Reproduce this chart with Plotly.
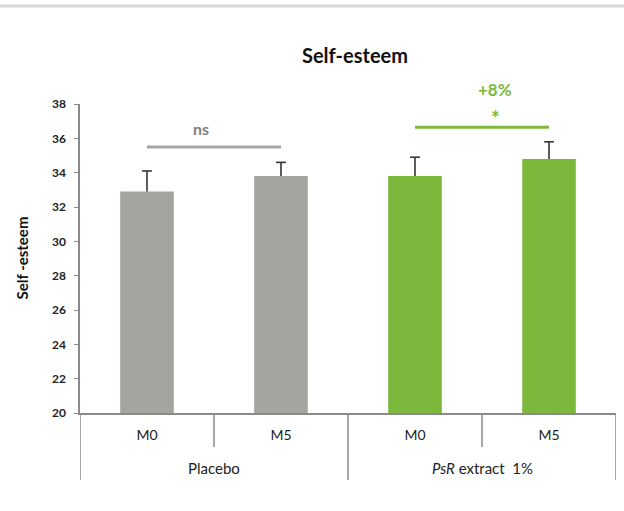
import plotly.graph_objects as go

# Study data: self-esteem score at month 0 and month 5 for each arm
groups = ["Placebo", "Placebo", "PsR extract 1%", "PsR extract 1%"]
timepoints = ["M0", "M5", "M0", "M5"]
means = [32.9, 33.8, 33.8, 34.8]
sem = [1.2, 0.8, 1.1, 1.0]
bar_colors = ["#a5a4a0", "#a5a4a0", "#7cb83c", "#7cb83c"]

group_names = ["Placebo", "<i>PsR</i> extract  1%"]
y_ticks = list(range(20, 39, 2))

AXIS = "#8a8a8a"
GREEN = "#7cb83c"
GRAY_LINE = "#a6a6a6"
WHISKER = "#333333"
FONT = "Lato"

xpos = list(range(len(timepoints)))
upper = [m + s for m, s in zip(means, sem)]

fig = go.Figure()
# bars with an upward whisker (no foot cap on the bar top)
fig.add_trace(go.Bar(
    x=xpos,
    y=means,
    width=0.4,
    marker=dict(color=bar_colors, line=dict(width=0)),
    error_y=dict(type="data", array=sem, arrayminus=[0] * len(sem),
                 symmetric=False, color=WHISKER, thickness=1.6, width=0),
    showlegend=False,
))
# short horizontal cap at the end of each whisker
fig.add_trace(go.Scatter(
    x=xpos,
    y=upper,
    mode="markers",
    marker=dict(symbol="line-ew", size=7, line=dict(color=WHISKER, width=1.6)),
    showlegend=False,
    hoverinfo="skip",
))

shapes = []
# light rule across the top of the figure
shapes.append(dict(type="line", xref="paper", yref="paper",
                   x0=-0.16, x1=1.02, y0=1.317, y1=1.317,
                   line=dict(color="#d9d9d9", width=3)))
# category dividers below the x axis
for xv, depth in [(-0.5, -0.217), (0.5, -0.110), (1.5, -0.217),
                  (2.5, -0.110), (3.5, -0.217)]:
    shapes.append(dict(type="line", xref="x", yref="paper",
                       x0=xv, x1=xv, y0=0, y1=depth,
                       line=dict(color=AXIS, width=1.5)))
# significance brackets
shapes.append(dict(type="line", xref="x", yref="y", x0=0, x1=1,
                   y0=35.5, y1=35.5, line=dict(color=GRAY_LINE, width=3)))
shapes.append(dict(type="line", xref="x", yref="y", x0=2, x1=3,
                   y0=36.65, y1=36.65, line=dict(color=GREEN, width=3)))

annotations = [
    dict(x=0.4, y=36.6, xref="x", yref="y", text="<b>ns</b>", showarrow=False,
         yanchor="middle", font=dict(family=FONT, size=16, color="#808080")),
    dict(x=2.6, y=37.2, xref="x", yref="y", text="<b>*</b>", showarrow=False,
         yanchor="middle", font=dict(family=FONT, size=21, color=GREEN)),
    dict(x=2.6, y=(413 - 89) / 309, xref="x", yref="paper", text="<b>+8%</b>",
         showarrow=False, yanchor="middle",
         font=dict(family=FONT, size=17, color=GREEN)),
    dict(x=-0.11, y=0.5, xref="paper", yref="paper", text="<b>Self -esteem</b>",
         textangle=-90, showarrow=False, xanchor="center", yanchor="middle",
         font=dict(family=FONT, size=15, color="#111111")),
]
for i, name in enumerate(group_names):
    annotations.append(dict(x=0.5 + 2 * i, y=-0.178, xref="x", yref="paper",
                            text=name, showarrow=False, yanchor="middle",
                            font=dict(family=FONT, size=15, color="#222222")))

fig.update_layout(
    width=624, height=511,
    margin=dict(l=80, r=8, t=104, b=98),
    paper_bgcolor="white", plot_bgcolor="white",
    title=dict(text="<b>Self-esteem</b>", x=355 / 624, y=1 - 56 / 511,
               xanchor="center", yanchor="middle",
               font=dict(family=FONT, size=20, color="#111111")),
    shapes=shapes,
    annotations=annotations,
)
fig.update_xaxes(range=[-0.5, 3.5], tickvals=xpos, ticktext=timepoints,
                 showline=True, linecolor=AXIS, linewidth=1.5, ticks="",
                 showgrid=False, zeroline=False, ticklabelstandoff=8,
                 tickfont=dict(family=FONT, size=14, color="#222222"))
fig.update_yaxes(range=[20, 38], tickvals=y_ticks, showline=True,
                 linecolor=AXIS, linewidth=1.5, ticks="outside", ticklen=4,
                 tickcolor=AXIS, showgrid=False, zeroline=False,
                 ticklabelstandoff=6,
                 tickfont=dict(family=FONT, size=12, color="#222222", weight="bold"))

fig.write_html("out.html")
